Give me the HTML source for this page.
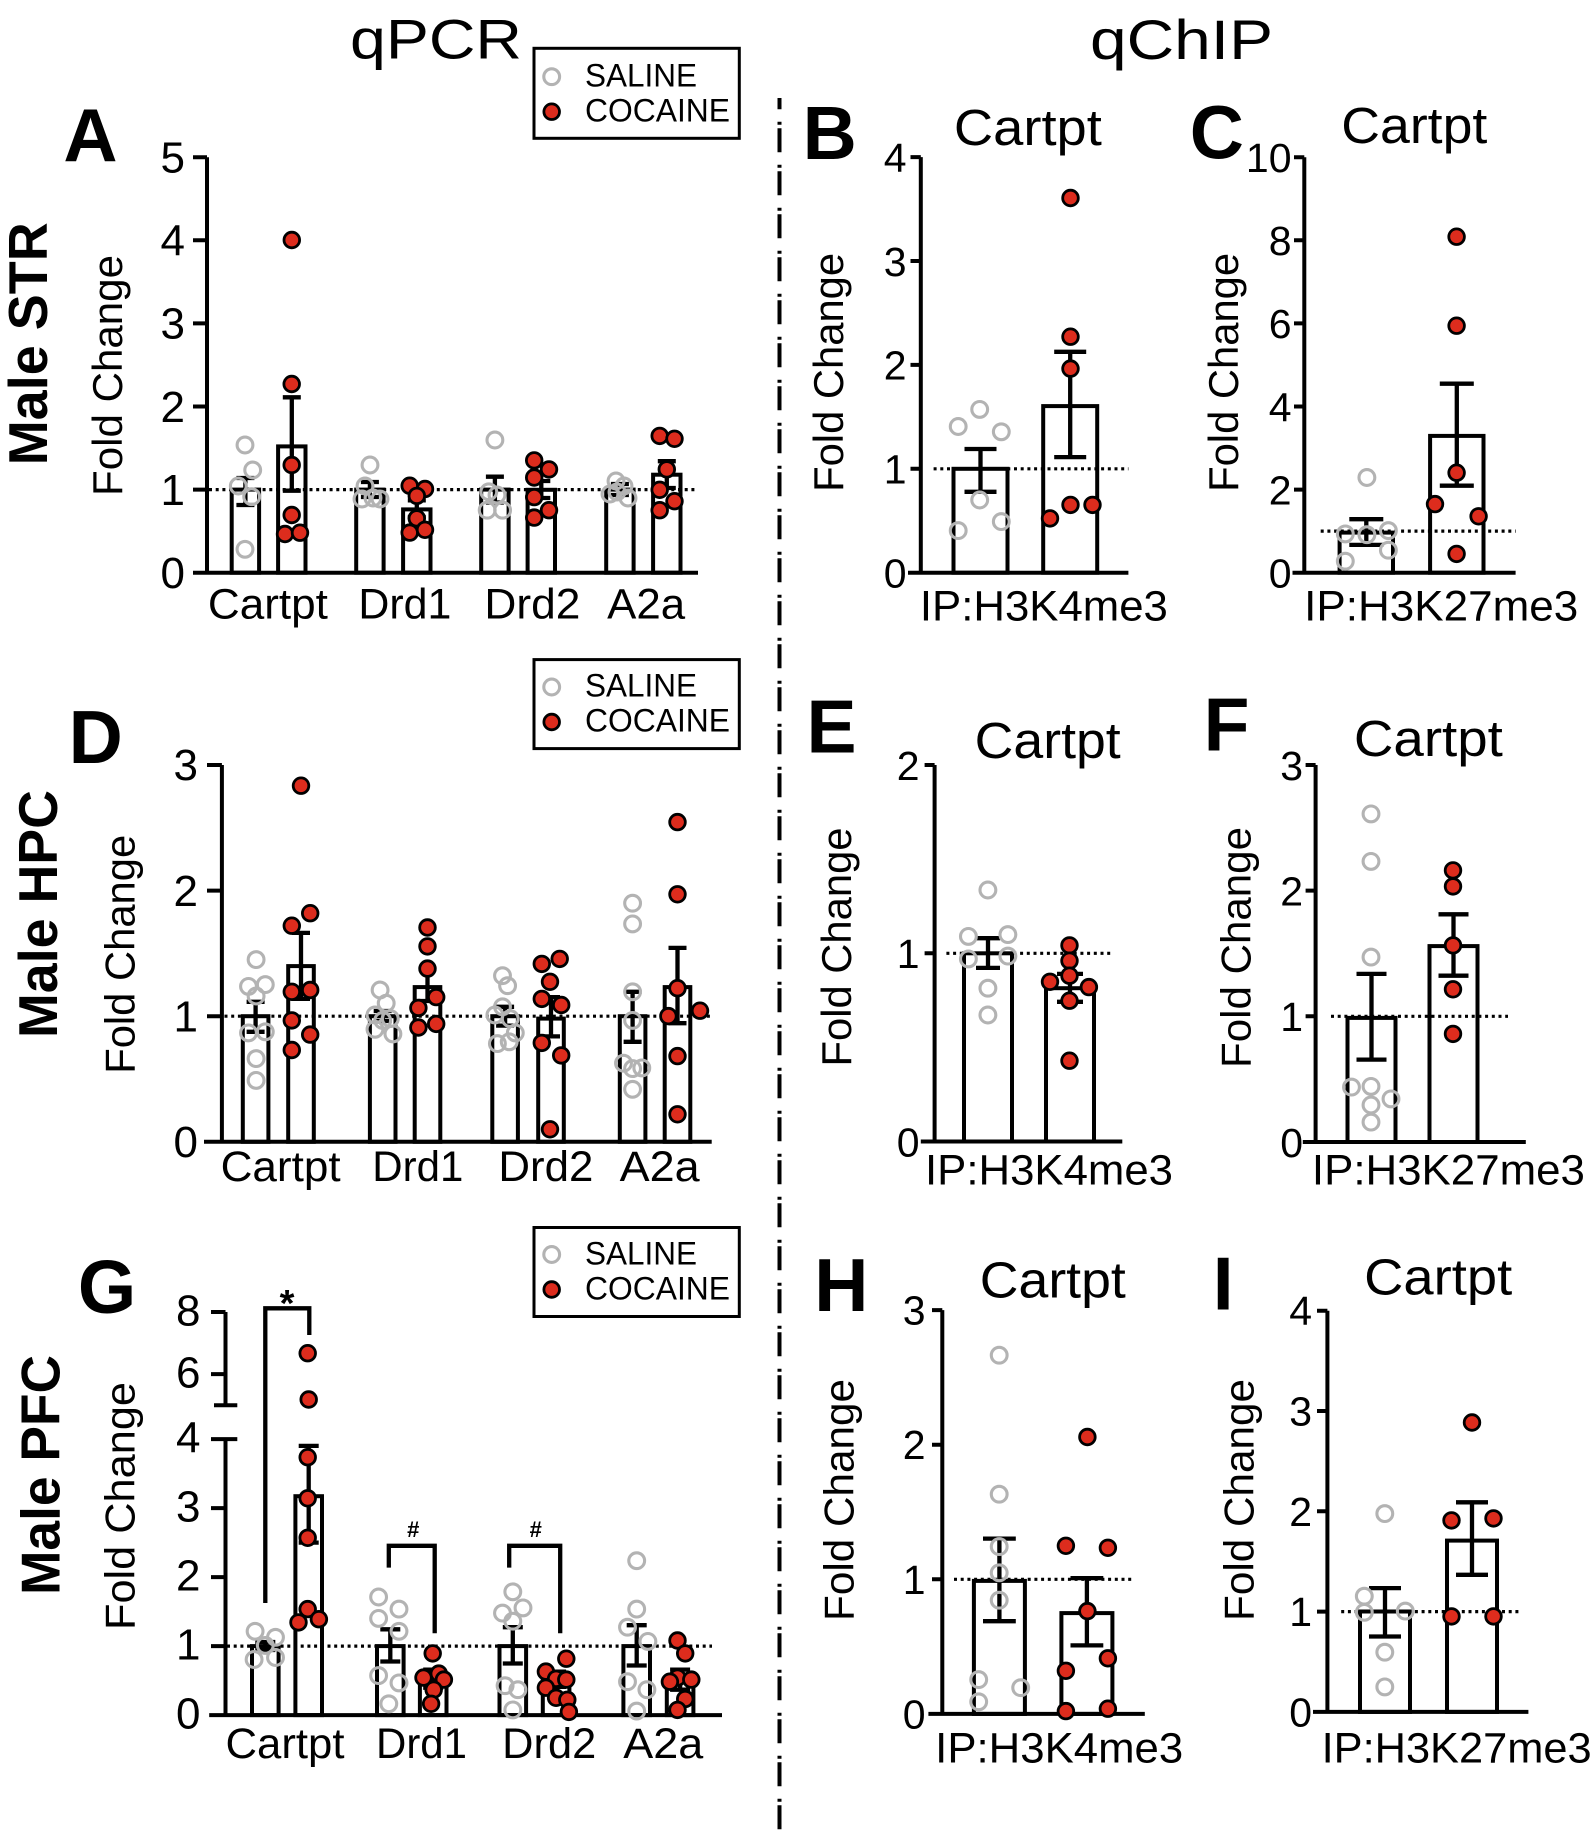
<!DOCTYPE html>
<html><head><meta charset="utf-8"><title>qPCR / qChIP</title>
<style>
html,body{margin:0;padding:0;background:#fff;}
svg{display:block;}
.ax{stroke:#000;stroke-width:4;fill:none;stroke-linecap:butt;}
.bar{stroke:#000;stroke-width:4;fill:none;}
.dt{stroke:#000;stroke-width:3.2;stroke-dasharray:3 3.7;fill:none;}
.eb{stroke:#000;stroke-width:4.3;fill:none;}
.s{fill:none;stroke:#b3b3b3;stroke-width:3.1;r:7.9px;}
.c{fill:#dd2c1d;stroke:#000;stroke-width:2.8;r:7.8px;}
text{font-family:"Liberation Sans",Arial,sans-serif;fill:#000;}
.tk{font-size:44px;text-anchor:end;}
.tkr{font-size:41px;text-anchor:end;}
.cat{font-size:43px;text-anchor:middle;}
.lt{font-size:75px;font-weight:bold;text-anchor:middle;}
.sub{font-size:51px;text-anchor:middle;}
.fc{font-size:42px;text-anchor:middle;}
.row{font-size:55px;font-weight:bold;text-anchor:middle;}
.lg{font-size:32px;}
</style></head>
<body>
<svg width="1594" height="1832" viewBox="0 0 1594 1832" xmlns="http://www.w3.org/2000/svg">
<rect x="0" y="0" width="1594" height="1832" fill="#fff"/>

<!-- Titles -->
<text x="350" y="58.3" font-size="56" textLength="172" lengthAdjust="spacingAndGlyphs">qPCR</text>
<text x="1090" y="59" font-size="56" textLength="183" lengthAdjust="spacingAndGlyphs">qChIP</text>

<!-- Divider -->
<line x1="779.5" y1="98" x2="779.5" y2="1832" stroke="#000" stroke-width="4" stroke-dasharray="24 12.5 3 3.5" stroke-dashoffset="12.7"/>

<!-- Row labels -->
<text class="row" transform="translate(47,343.8) rotate(-90)" textLength="243" lengthAdjust="spacingAndGlyphs">Male STR</text>
<text class="row" transform="translate(57,914) rotate(-90)" textLength="248" lengthAdjust="spacingAndGlyphs">Male HPC</text>
<text class="row" transform="translate(59.5,1475) rotate(-90)" textLength="240" lengthAdjust="spacingAndGlyphs">Male PFC</text>

<!-- Panel letters -->
<text class="lt" x="90.5" y="161.2">A</text>
<text class="lt" x="829.7" y="159.2">B</text>
<text class="lt" x="1216.8" y="158.5">C</text>
<text class="lt" x="95.7" y="763">D</text>
<text class="lt" x="831.5" y="752.5">E</text>
<text class="lt" x="1226.6" y="750.5">F</text>
<text class="lt" x="107.1" y="1313">G</text>
<text class="lt" x="841.3" y="1310.8">H</text>
<text class="lt" x="1223.2" y="1309.4">I</text>

<!-- Legends -->
<g>
<rect x="534" y="48.3" width="205.3" height="90" fill="none" stroke="#000" stroke-width="3"/>
<circle class="s" cx="551.7" cy="76.7" r="7.2"/>
<circle class="c" cx="551.7" cy="111.7" r="7"/>
<text class="lg" x="585" y="86.7" textLength="112" lengthAdjust="spacingAndGlyphs">SALINE</text>
<text class="lg" x="585" y="121.7" textLength="145" lengthAdjust="spacingAndGlyphs">COCAINE</text>
</g>
<g>
<rect x="534" y="659.6" width="205.3" height="89" fill="none" stroke="#000" stroke-width="3"/>
<circle class="s" cx="551.7" cy="687" r="7.2"/>
<circle class="c" cx="551.7" cy="722" r="7"/>
<text class="lg" x="585" y="696.5" textLength="112" lengthAdjust="spacingAndGlyphs">SALINE</text>
<text class="lg" x="585" y="731.5" textLength="145" lengthAdjust="spacingAndGlyphs">COCAINE</text>
</g>
<g>
<rect x="534" y="1227.5" width="205.3" height="89" fill="none" stroke="#000" stroke-width="3"/>
<circle class="s" cx="551.7" cy="1254.5" r="7.2"/>
<circle class="c" cx="551.7" cy="1289.5" r="7"/>
<text class="lg" x="585" y="1264.5" textLength="112" lengthAdjust="spacingAndGlyphs">SALINE</text>
<text class="lg" x="585" y="1299.5" textLength="145" lengthAdjust="spacingAndGlyphs">COCAINE</text>
</g>

<!-- ================= Panel A ================= -->
<text class="fc" transform="translate(121.8,375.5) rotate(-90)" textLength="241" lengthAdjust="spacingAndGlyphs">Fold Change</text>
<path class="ax" d="M207,157.2V574.7 M193,572.7H698 M193,489.6H207 M193,406.5H207 M193,323.4H207 M193,240.3H207 M193,157.2H207"/>
<text class="tk" x="185" y="588">0</text>
<text class="tk" x="185" y="504.9">1</text>
<text class="tk" x="185" y="421.8">2</text>
<text class="tk" x="185" y="338.7">3</text>
<text class="tk" x="185" y="255.6">4</text>
<text class="tk" x="185" y="172.5">5</text>
<rect class="bar" x="231.7" y="489.6" width="27.4" height="83.1"/>
<rect class="bar" x="278.1" y="446.4" width="27.4" height="126.3"/>
<rect class="bar" x="356.2" y="489.6" width="27.4" height="83.1"/>
<rect class="bar" x="403.1" y="509.4" width="27.4" height="63.3"/>
<rect class="bar" x="481.2" y="489.6" width="27.4" height="83.1"/>
<rect class="bar" x="527.6" y="489.8" width="27.4" height="82.9"/>
<rect class="bar" x="606.2" y="489.6" width="27.4" height="83.1"/>
<rect class="bar" x="653.1" y="474.7" width="27.4" height="98"/>
<path class="dt" d="M209,489.6H698"/>
<path class="eb" d="M245.4,478V505 M236.4,478H254.4 M236.4,505H254.4
M291.8,397.3V490.7 M282.8,397.3H300.8 M282.8,490.7H300.8
M369.9,482V497 M360.9,482H378.9 M360.9,497H378.9
M416.8,500.4V517 M407.8,500.4H425.8 M407.8,517H425.8
M494.9,476.7V502.5 M485.9,476.7H503.9 M485.9,502.5H503.9
M541.3,481V498 M532.3,481H550.3 M532.3,498H550.3
M619.9,484V495 M610.9,484H628.9 M610.9,495H628.9
M666.8,461.2V488 M657.8,461.2H675.8 M657.8,488H675.8"/>
<g>
<circle class="s" cx="245" cy="445" r="7.4"/><circle class="s" cx="252.7" cy="470" r="7.4"/><circle class="s" cx="238.3" cy="486" r="7.4"/><circle class="s" cx="251.7" cy="496.7" r="7.4"/><circle class="s" cx="245" cy="549.3" r="7.4"/>
<circle class="c" cx="291.8" cy="240" r="7.2"/><circle class="c" cx="291.7" cy="384" r="7.2"/><circle class="c" cx="291.7" cy="465" r="7.2"/><circle class="c" cx="291.7" cy="515" r="7.2"/><circle class="c" cx="285" cy="534" r="7.2"/><circle class="c" cx="300" cy="532.7" r="7.2"/>
<circle class="s" cx="370" cy="465" r="7.4"/><circle class="s" cx="365" cy="486" r="7.4"/><circle class="s" cx="362" cy="499" r="7.4"/><circle class="s" cx="373" cy="498" r="7.4"/><circle class="s" cx="380" cy="499" r="7.4"/>
<circle class="c" cx="409.7" cy="485.7" r="7.2"/><circle class="c" cx="425" cy="489" r="7.2"/><circle class="c" cx="416.8" cy="495.9" r="7.2"/><circle class="c" cx="416.8" cy="518.4" r="7.2"/><circle class="c" cx="409.7" cy="532.6" r="7.2"/><circle class="c" cx="425" cy="529.8" r="7.2"/>
<circle class="s" cx="494.9" cy="440" r="7.4"/><circle class="s" cx="488.8" cy="491.8" r="7.4"/><circle class="s" cx="497" cy="495" r="7.4"/><circle class="s" cx="487.2" cy="510.2" r="7.4"/><circle class="s" cx="502.6" cy="510.2" r="7.4"/>
<circle class="c" cx="534.2" cy="460.4" r="7.2"/><circle class="c" cx="549" cy="469.4" r="7.2"/><circle class="c" cx="534.2" cy="477.5" r="7.2"/><circle class="c" cx="534.2" cy="497.1" r="7.2"/><circle class="c" cx="549" cy="510.2" r="7.2"/><circle class="c" cx="534.2" cy="517.6" r="7.2"/>
<circle class="s" cx="616" cy="481" r="7.4"/><circle class="s" cx="624" cy="486" r="7.4"/><circle class="s" cx="610" cy="494" r="7.4"/><circle class="s" cx="628" cy="498" r="7.4"/><circle class="s" cx="617" cy="492" r="7.4"/>
<circle class="c" cx="659.7" cy="435.9" r="7.2"/><circle class="c" cx="674.5" cy="438.8" r="7.2"/><circle class="c" cx="666.8" cy="469.4" r="7.2"/><circle class="c" cx="659.7" cy="489.8" r="7.2"/><circle class="c" cx="674.5" cy="501.2" r="7.2"/><circle class="c" cx="659.7" cy="510.2" r="7.2"/>
</g>
<text class="cat" x="267.9" y="618.4" textLength="120" lengthAdjust="spacingAndGlyphs">Cartpt</text>
<text class="cat" x="404.9" y="618.4" textLength="93" lengthAdjust="spacingAndGlyphs">Drd1</text>
<text class="cat" x="532.4" y="618.4" textLength="96" lengthAdjust="spacingAndGlyphs">Drd2</text>
<text class="cat" x="646.2" y="618.4" textLength="78" lengthAdjust="spacingAndGlyphs">A2a</text>

<!-- ================= Panel B ================= -->
<text class="sub" x="1027.9" y="145" textLength="148" lengthAdjust="spacingAndGlyphs">Cartpt</text>
<text class="fc" transform="translate(843,372.4) rotate(-90)" textLength="239" lengthAdjust="spacingAndGlyphs">Fold Change</text>
<path class="ax" d="M920.8,157.1V574.7 M908,572.7H1128.4 M910.5,468.8H920.8 M910.5,364.9H920.8 M910.5,261H920.8 M910.5,157.1H920.8"/>
<text class="tkr" x="906.5" y="587.5">0</text>
<text class="tkr" x="906.5" y="483.6">1</text>
<text class="tkr" x="906.5" y="379.7">2</text>
<text class="tkr" x="906.5" y="275.8">3</text>
<text class="tkr" x="906.5" y="171.9">4</text>
<rect class="bar" x="953.5" y="468.8" width="54" height="103.9"/>
<rect class="bar" x="1043.2" y="406.1" width="54" height="166.6"/>
<path class="dt" d="M933.6,468.8H1128.4"/>
<path class="eb" d="M980.5,449V491.8 M964.5,449H996.5 M964.5,491.8H996.5 M1070.2,351.8V457.1 M1054.2,351.8H1086.2 M1054.2,457.1H1086.2"/>
<g>
<circle class="s" cx="958.2" cy="426.5" r="7.4"/><circle class="s" cx="979.7" cy="409.4" r="7.4"/><circle class="s" cx="1001.3" cy="431.8" r="7.4"/><circle class="s" cx="979.7" cy="500" r="7.4"/><circle class="s" cx="958.2" cy="530.6" r="7.4"/><circle class="s" cx="1001.3" cy="521.6" r="7.4"/>
<circle class="c" cx="1070.5" cy="198" r="7.2"/><circle class="c" cx="1070.5" cy="336.7" r="7.2"/><circle class="c" cx="1070.5" cy="368.6" r="7.2"/><circle class="c" cx="1050" cy="518.4" r="7.2"/><circle class="c" cx="1070.5" cy="504.9" r="7.2"/><circle class="c" cx="1092.5" cy="504.9" r="7.2"/>
</g>
<text class="cat" x="1043.9" y="620.4" textLength="248" lengthAdjust="spacingAndGlyphs">IP:H3K4me3</text>

<!-- ================= Panel C ================= -->
<text class="sub" x="1414.3" y="143" textLength="146" lengthAdjust="spacingAndGlyphs">Cartpt</text>
<text class="fc" transform="translate(1238,372.4) rotate(-90)" textLength="239" lengthAdjust="spacingAndGlyphs">Fold Change</text>
<path class="ax" d="M1304.3,157.2V574.7 M1292.5,572.7H1515.6 M1294,489.6H1304.3 M1294,406.5H1304.3 M1294,323.4H1304.3 M1294,240.3H1304.3 M1294,157.2H1304.3"/>
<text class="tkr" x="1291.5" y="587.5">0</text>
<text class="tkr" x="1291.5" y="504.4">2</text>
<text class="tkr" x="1291.5" y="421.3">4</text>
<text class="tkr" x="1291.5" y="338.2">6</text>
<text class="tkr" x="1291.5" y="255.1">8</text>
<text class="tkr" x="1291.5" y="172">10</text>
<rect class="bar" x="1339.6" y="532.6" width="53.4" height="40.1"/>
<rect class="bar" x="1430.1" y="435.9" width="53.4" height="136.8"/>
<path class="dt" d="M1320.7,531.1H1515.6"/>
<path class="eb" d="M1366.3,519.2V544.9 M1349.3,519.2H1383.3 M1349.3,544.9H1383.3 M1456.8,383.7V485.7 M1439.8,383.7H1473.8 M1439.8,485.7H1473.8"/>
<g>
<circle class="s" cx="1366.9" cy="477.5" r="7.4"/><circle class="s" cx="1345.3" cy="533.9" r="7.4"/><circle class="s" cx="1366.9" cy="534.7" r="7.4"/><circle class="s" cx="1388.4" cy="530.6" r="7.4"/><circle class="s" cx="1388.4" cy="550.2" r="7.4"/><circle class="s" cx="1345.3" cy="561.2" r="7.4"/>
<circle class="c" cx="1456.6" cy="236.7" r="7.2"/><circle class="c" cx="1456.6" cy="325.7" r="7.2"/><circle class="c" cx="1456.6" cy="472.7" r="7.2"/><circle class="c" cx="1435" cy="504.1" r="7.2"/><circle class="c" cx="1478.6" cy="516.3" r="7.2"/><circle class="c" cx="1456.6" cy="553.9" r="7.2"/>
</g>
<text class="cat" x="1441.2" y="620.4" textLength="274" lengthAdjust="spacingAndGlyphs">IP:H3K27me3</text>

<!-- ================= Panel D ================= -->
<text class="fc" transform="translate(134.6,954.3) rotate(-90)" textLength="239" lengthAdjust="spacingAndGlyphs">Fold Change</text>
<path class="ax" d="M221.9,765V1143.8 M204,1141.8H711.7 M207,1016.2H221.9 M207,890.6H221.9 M207,765H221.9"/>
<text class="tk" x="198" y="1157">0</text>
<text class="tk" x="198" y="1031.4">1</text>
<text class="tk" x="198" y="905.8">2</text>
<text class="tk" x="198" y="780.2">3</text>
<rect class="bar" x="242.8" y="1016.2" width="25.6" height="125.6"/>
<rect class="bar" x="288.2" y="966.1" width="25.6" height="175.7"/>
<rect class="bar" x="369.9" y="1016.2" width="25.6" height="125.6"/>
<rect class="bar" x="414.7" y="987.1" width="25.6" height="154.7"/>
<rect class="bar" x="492.3" y="1016.2" width="25.6" height="125.6"/>
<rect class="bar" x="538.2" y="1018.6" width="25.6" height="123.2"/>
<rect class="bar" x="619.8" y="1016.2" width="25.6" height="125.6"/>
<rect class="bar" x="664.7" y="987.1" width="25.6" height="154.7"/>
<path class="dt" d="M224.5,1016.2H711.7"/>
<path class="eb" d="M255.6,1001.8V1031.8 M246.6,1001.8H264.6 M246.6,1031.8H264.6
M301,932.9V998.9 M292,932.9H310 M292,998.9H310
M382.7,1011V1021 M373.7,1011H391.7 M373.7,1021H391.7
M427.5,969V1001 M418.5,969H436.5 M418.5,1001H436.5
M505.1,1006.8V1025.6 M496.1,1006.8H514.1 M496.1,1025.6H514.1
M551,997.1V1036.4 M542,997.1H560 M542,1036.4H560
M632.6,991.8V1041.8 M623.6,991.8H641.6 M623.6,1041.8H641.6
M677.5,947.9V1023.2 M668.5,947.9H686.5 M668.5,1023.2H686.5"/>
<g>
<circle class="s" cx="256.1" cy="959.6" r="7.4"/><circle class="s" cx="248.5" cy="986.4" r="7.4"/><circle class="s" cx="265.3" cy="984.6" r="7.4"/><circle class="s" cx="256.1" cy="996" r="7.4"/><circle class="s" cx="265.3" cy="1031.8" r="7.4"/><circle class="s" cx="248.5" cy="1032.9" r="7.4"/><circle class="s" cx="256.1" cy="1058.6" r="7.4"/><circle class="s" cx="256.1" cy="1080.4" r="7.4"/>
<circle class="c" cx="301" cy="785.7" r="7.2"/><circle class="c" cx="310.2" cy="913.2" r="7.2"/><circle class="c" cx="291.8" cy="925.7" r="7.2"/><circle class="c" cx="291.8" cy="991.8" r="7.2"/><circle class="c" cx="310.2" cy="990" r="7.2"/><circle class="c" cx="291.8" cy="1020.4" r="7.2"/><circle class="c" cx="310.2" cy="1034.6" r="7.2"/><circle class="c" cx="291.8" cy="1050" r="7.2"/>
<circle class="s" cx="380.1" cy="990" r="7.4"/><circle class="s" cx="386.2" cy="1003.2" r="7.4"/><circle class="s" cx="375" cy="1015" r="7.4"/><circle class="s" cx="390.3" cy="1018.6" r="7.4"/><circle class="s" cx="382.7" cy="1020.4" r="7.4"/><circle class="s" cx="375" cy="1029.3" r="7.4"/><circle class="s" cx="392.9" cy="1033.9" r="7.4"/>
<circle class="c" cx="427.5" cy="927.5" r="7.2"/><circle class="c" cx="427.5" cy="946.4" r="7.2"/><circle class="c" cx="427.5" cy="968.6" r="7.2"/><circle class="c" cx="418.4" cy="1007.9" r="7.2"/><circle class="c" cx="436.2" cy="997.1" r="7.2"/><circle class="c" cx="418.4" cy="1027.5" r="7.2"/><circle class="c" cx="436.2" cy="1023.9" r="7.2"/>
<circle class="s" cx="502.5" cy="975.7" r="7.4"/><circle class="s" cx="507.6" cy="985.7" r="7.4"/><circle class="s" cx="502.5" cy="1006.8" r="7.4"/><circle class="s" cx="494.9" cy="1015" r="7.4"/><circle class="s" cx="510.2" cy="1018.6" r="7.4"/><circle class="s" cx="515.3" cy="1032.9" r="7.4"/><circle class="s" cx="497.4" cy="1043.6" r="7.4"/><circle class="s" cx="509.2" cy="1041.8" r="7.4"/>
<circle class="c" cx="541.8" cy="963.9" r="7.2"/><circle class="c" cx="559.7" cy="958.9" r="7.2"/><circle class="c" cx="550" cy="981.8" r="7.2"/><circle class="c" cx="541.8" cy="998.9" r="7.2"/><circle class="c" cx="561.2" cy="1005" r="7.2"/><circle class="c" cx="541.8" cy="1042.9" r="7.2"/><circle class="c" cx="561.2" cy="1055.4" r="7.2"/><circle class="c" cx="550" cy="1129.3" r="7.2"/>
<circle class="s" cx="632.6" cy="903.2" r="7.4"/><circle class="s" cx="632.6" cy="923.9" r="7.4"/><circle class="s" cx="632.6" cy="991.8" r="7.4"/><circle class="s" cx="632.6" cy="1020.4" r="7.4"/><circle class="s" cx="623.5" cy="1063.2" r="7.4"/><circle class="s" cx="641.8" cy="1067.9" r="7.4"/><circle class="s" cx="632.6" cy="1068.6" r="7.4"/><circle class="s" cx="632.6" cy="1089.3" r="7.4"/>
<circle class="c" cx="677.5" cy="822.1" r="7.2"/><circle class="c" cx="677.5" cy="894.3" r="7.2"/><circle class="c" cx="677.5" cy="988.2" r="7.2"/><circle class="c" cx="668.4" cy="1016.1" r="7.2"/><circle class="c" cx="700" cy="1010.7" r="7.2"/><circle class="c" cx="677.5" cy="1056.1" r="7.2"/><circle class="c" cx="677.5" cy="1114.3" r="7.2"/>
</g>
<text class="cat" x="280.6" y="1181" textLength="120" lengthAdjust="spacingAndGlyphs">Cartpt</text>
<text class="cat" x="417.8" y="1181" textLength="91" lengthAdjust="spacingAndGlyphs">Drd1</text>
<text class="cat" x="545.9" y="1181" textLength="95" lengthAdjust="spacingAndGlyphs">Drd2</text>
<text class="cat" x="659.7" y="1181" textLength="80" lengthAdjust="spacingAndGlyphs">A2a</text>

<!-- ================= Panel E ================= -->
<text class="sub" x="1047.7" y="758" textLength="146" lengthAdjust="spacingAndGlyphs">Cartpt</text>
<text class="fc" transform="translate(850.8,947) rotate(-90)" textLength="239" lengthAdjust="spacingAndGlyphs">Fold Change</text>
<path class="ax" d="M934.6,765V1143.5 M920.8,1141.5H1122.3 M924.6,953.3H934.6 M924.6,765H934.6"/>
<text class="tkr" x="919.5" y="1156.3">0</text>
<text class="tkr" x="919.5" y="968.1">1</text>
<text class="tkr" x="919.5" y="779.8">2</text>
<rect class="bar" x="964" y="953.3" width="48" height="188.2"/>
<rect class="bar" x="1046" y="988.2" width="48" height="153.3"/>
<path class="dt" d="M946.4,953.3H1110.5"/>
<path class="eb" d="M988,938.2V967.9 M976,938.2H1000 M976,967.9H1000 M1070,973.9V1001.8 M1057,973.9H1083 M1057,1001.8H1083"/>
<g>
<circle class="s" cx="987.9" cy="890" r="7.4"/><circle class="s" cx="968.4" cy="936.4" r="7.4"/><circle class="s" cx="1007.9" cy="934.6" r="7.4"/><circle class="s" cx="968.4" cy="958.9" r="7.4"/><circle class="s" cx="1007.9" cy="956.1" r="7.4"/><circle class="s" cx="987.9" cy="988.2" r="7.4"/><circle class="s" cx="987.9" cy="1015" r="7.4"/>
<circle class="c" cx="1069.5" cy="945.4" r="7.2"/><circle class="c" cx="1069.5" cy="960.7" r="7.2"/><circle class="c" cx="1069.5" cy="975.7" r="7.2"/><circle class="c" cx="1050" cy="981.8" r="7.2"/><circle class="c" cx="1088.9" cy="987.1" r="7.2"/><circle class="c" cx="1069.5" cy="1000.7" r="7.2"/><circle class="c" cx="1069.5" cy="1060.7" r="7.2"/>
</g>
<text class="cat" x="1049" y="1184.6" textLength="248" lengthAdjust="spacingAndGlyphs">IP:H3K4me3</text>

<!-- ================= Panel F ================= -->
<text class="sub" x="1428.4" y="756" textLength="149" lengthAdjust="spacingAndGlyphs">Cartpt</text>
<text class="fc" transform="translate(1250.7,947.5) rotate(-90)" textLength="241" lengthAdjust="spacingAndGlyphs">Fold Change</text>
<path class="ax" d="M1315.6,765V1144 M1302.8,1142H1525.8 M1305.6,1016.3H1315.6 M1305.6,890.6H1315.6 M1305.6,765H1315.6"/>
<text class="tkr" x="1303" y="1156.8">0</text>
<text class="tkr" x="1303" y="1031.1">1</text>
<text class="tkr" x="1303" y="905.4">2</text>
<text class="tkr" x="1303" y="779.8">3</text>
<rect class="bar" x="1347.5" y="1017.9" width="48" height="124.1"/>
<rect class="bar" x="1429.5" y="946.1" width="48" height="195.9"/>
<path class="dt" d="M1331,1016.3H1508"/>
<path class="eb" d="M1371.5,973.9V1059.6 M1356.5,973.9H1386.5 M1356.5,1059.6H1386.5 M1453.5,914.3V975.7 M1438.5,914.3H1468.5 M1438.5,975.7H1468.5"/>
<g>
<circle class="s" cx="1371" cy="813.9" r="7.4"/><circle class="s" cx="1371" cy="861.4" r="7.4"/><circle class="s" cx="1371" cy="957.1" r="7.4"/><circle class="s" cx="1351.5" cy="1087.1" r="7.4"/><circle class="s" cx="1371" cy="1086.4" r="7.4"/><circle class="s" cx="1391" cy="1098.9" r="7.4"/><circle class="s" cx="1371" cy="1105" r="7.4"/><circle class="s" cx="1371" cy="1122.1" r="7.4"/>
<circle class="c" cx="1453" cy="870.4" r="7.2"/><circle class="c" cx="1453" cy="886.4" r="7.2"/><circle class="c" cx="1453" cy="945.4" r="7.2"/><circle class="c" cx="1453" cy="989.3" r="7.2"/><circle class="c" cx="1453" cy="1033.9" r="7.2"/>
</g>
<text class="cat" x="1448.4" y="1184.6" textLength="273" lengthAdjust="spacingAndGlyphs">IP:H3K27me3</text>

<!-- ================= Panel G ================= -->
<text class="fc" transform="translate(134.6,1506) rotate(-90)" textLength="248" lengthAdjust="spacingAndGlyphs">Fold Change</text>
<path class="ax" d="M225.5,1312V1405.2 M225.5,1439.1V1717.1 M209.2,1715.1H722 M211,1312H225.5 M211,1374.1H225.5 M211,1508.1H225.5 M211,1577.1H225.5 M211,1646.1H225.5 M214,1405.2H237.3 M211,1439.1H237.3"/>
<text class="tk" x="200.5" y="1325.5">8</text>
<text class="tk" x="200.5" y="1387.6">6</text>
<text class="tk" x="200.5" y="1452.6">4</text>
<text class="tk" x="200.5" y="1521.6">3</text>
<text class="tk" x="200.5" y="1590.6">2</text>
<text class="tk" x="200.5" y="1659.6">1</text>
<text class="tk" x="200.5" y="1728.6">0</text>
<rect class="bar" x="252" y="1646.1" width="26.6" height="69"/>
<rect class="bar" x="295.4" y="1496.2" width="26.6" height="218.9"/>
<rect class="bar" x="377" y="1646.1" width="26.6" height="69"/>
<rect class="bar" x="419.9" y="1677.6" width="26.6" height="37.5"/>
<rect class="bar" x="499.5" y="1646.1" width="26.6" height="69"/>
<rect class="bar" x="542.8" y="1679.6" width="26.6" height="35.5"/>
<rect class="bar" x="623.4" y="1646.1" width="26.6" height="69"/>
<rect class="bar" x="666.8" y="1680" width="26.6" height="35.1"/>
<path class="dt" d="M227,1646.1H712"/>
<path class="eb" d="M265.3,1642V1650 M255.3,1642H275.3 M255.3,1650H275.3
M308.7,1445.9V1542.6 M298.7,1445.9H318.7 M298.7,1542.6H318.7
M390.3,1629.3V1661.5 M380.3,1629.3H400.3 M380.3,1661.5H400.3
M433.2,1669.6V1687.7 M423.2,1669.6H443.2 M423.2,1687.7H443.2
M512.8,1627.2V1663.5 M502.8,1627.2H522.8 M502.8,1663.5H522.8
M556.1,1671.6V1686.9 M546.1,1671.6H566.1 M546.1,1686.9H566.1
M636.7,1625.2V1665.5 M626.7,1625.2H646.7 M626.7,1665.5H646.7
M680.1,1669.6V1689.7 M670.1,1669.6H690.1 M670.1,1689.7H690.1"/>
<!-- significance brackets -->
<path class="eb" d="M265.3,1603V1308.3H309.3V1335"/>
<path class="eb" d="M388.8,1567.6V1545.8H434.7V1633.3"/>
<path class="eb" d="M509.2,1567.6V1545.8H560.2V1633.3"/>
<text x="287" y="1316" font-size="38" font-weight="bold" text-anchor="middle">*</text>
<text x="413.3" y="1537" font-size="22" font-weight="bold" text-anchor="middle">#</text>
<text x="535.7" y="1537" font-size="22" font-weight="bold" text-anchor="middle">#</text>
<g>
<circle class="s" cx="255.1" cy="1631.3" r="7.4"/><circle class="s" cx="275.5" cy="1637.3" r="7.4"/><circle class="s" cx="265.3" cy="1645.4" r="7.4"/><circle class="s" cx="254.1" cy="1659.5" r="7.4"/><circle class="s" cx="275.5" cy="1657.5" r="7.4"/>
<circle class="c" cx="307.7" cy="1353.2" r="7.2"/><circle class="c" cx="308.7" cy="1399.5" r="7.2"/><circle class="c" cx="307.7" cy="1457.2" r="7.2"/><circle class="c" cx="307.7" cy="1498.3" r="7.2"/><circle class="c" cx="307.7" cy="1537.8" r="7.2"/><circle class="c" cx="307.7" cy="1609.1" r="7.2"/><circle class="c" cx="298.5" cy="1622.4" r="7.2"/><circle class="c" cx="318.9" cy="1619.2" r="7.2"/>
<circle class="s" cx="378.6" cy="1597" r="7.4"/><circle class="s" cx="399" cy="1609.1" r="7.4"/><circle class="s" cx="378.6" cy="1618.4" r="7.4"/><circle class="s" cx="399" cy="1631.3" r="7.4"/><circle class="s" cx="378.6" cy="1675.6" r="7.4"/><circle class="s" cx="399" cy="1682.9" r="7.4"/><circle class="s" cx="388.8" cy="1703.8" r="7.4"/>
<circle class="c" cx="432.7" cy="1653.4" r="7.2"/><circle class="c" cx="423.5" cy="1677.6" r="7.2"/><circle class="c" cx="438.8" cy="1673.6" r="7.2"/><circle class="c" cx="443.9" cy="1679.6" r="7.2"/><circle class="c" cx="433.7" cy="1689.7" r="7.2"/><circle class="c" cx="431.1" cy="1703.8" r="7.2"/>
<circle class="s" cx="512.8" cy="1591.8" r="7.4"/><circle class="s" cx="502.5" cy="1613.1" r="7.4"/><circle class="s" cx="523" cy="1607.9" r="7.4"/><circle class="s" cx="512.8" cy="1621.2" r="7.4"/><circle class="s" cx="505.1" cy="1685.7" r="7.4"/><circle class="s" cx="517.9" cy="1689.7" r="7.4"/><circle class="s" cx="512.8" cy="1709.9" r="7.4"/>
<circle class="c" cx="566.3" cy="1658.7" r="7.2"/><circle class="c" cx="545.9" cy="1671.6" r="7.2"/><circle class="c" cx="556.1" cy="1678.8" r="7.2"/><circle class="c" cx="566.3" cy="1679.6" r="7.2"/><circle class="c" cx="545.9" cy="1687.7" r="7.2"/><circle class="c" cx="556.1" cy="1697.8" r="7.2"/><circle class="c" cx="567.3" cy="1699.8" r="7.2"/><circle class="c" cx="568.9" cy="1711.9" r="7.2"/>
<circle class="s" cx="636.7" cy="1560.7" r="7.4"/><circle class="s" cx="636.7" cy="1609.1" r="7.4"/><circle class="s" cx="627.5" cy="1627.2" r="7.4"/><circle class="s" cx="647.9" cy="1641.4" r="7.4"/><circle class="s" cx="627.5" cy="1681.7" r="7.4"/><circle class="s" cx="646.9" cy="1689.7" r="7.4"/><circle class="s" cx="636.7" cy="1711.1" r="7.4"/>
<circle class="c" cx="677.5" cy="1640.5" r="7.2"/><circle class="c" cx="685.2" cy="1653.4" r="7.2"/><circle class="c" cx="677.5" cy="1677.6" r="7.2"/><circle class="c" cx="669.9" cy="1681.7" r="7.2"/><circle class="c" cx="691.3" cy="1679.6" r="7.2"/><circle class="c" cx="685.2" cy="1699" r="7.2"/><circle class="c" cx="677.5" cy="1709.9" r="7.2"/>
</g>
<text class="cat" x="285" y="1758.2" textLength="119" lengthAdjust="spacingAndGlyphs">Cartpt</text>
<text class="cat" x="421.5" y="1758.2" textLength="91" lengthAdjust="spacingAndGlyphs">Drd1</text>
<text class="cat" x="549.2" y="1758.2" textLength="94" lengthAdjust="spacingAndGlyphs">Drd2</text>
<text class="cat" x="663.3" y="1758.2" textLength="80" lengthAdjust="spacingAndGlyphs">A2a</text>

<!-- ================= Panel H ================= -->
<text class="sub" x="1052.8" y="1297.5" textLength="146" lengthAdjust="spacingAndGlyphs">Cartpt</text>
<text class="fc" transform="translate(853.3,1500) rotate(-90)" textLength="242" lengthAdjust="spacingAndGlyphs">Fold Change</text>
<path class="ax" d="M942.3,1310.1V1715.9 M928.4,1713.9H1144.8 M932,1579.3H942.3 M932,1444.7H942.3 M932,1310.1H942.3"/>
<text class="tkr" x="925.5" y="1728.4">0</text>
<text class="tkr" x="925.5" y="1593.8">1</text>
<text class="tkr" x="925.5" y="1459.2">2</text>
<text class="tkr" x="925.5" y="1324.6">3</text>
<rect class="bar" x="973.9" y="1580.9" width="51" height="133"/>
<rect class="bar" x="1061.4" y="1613.1" width="51" height="100.8"/>
<path class="dt" d="M954,1579.3H1133.5"/>
<path class="eb" d="M999.4,1538.6V1621.2 M983,1538.6H1015.8 M983,1621.2H1015.8 M1086.9,1578.1V1645.4 M1070.5,1578.1H1103.3 M1070.5,1645.4H1103.3"/>
<g>
<circle class="s" cx="999.2" cy="1355.2" r="7.4"/><circle class="s" cx="999.2" cy="1494.2" r="7.4"/><circle class="s" cx="999.2" cy="1546.6" r="7.4"/><circle class="s" cx="999.2" cy="1572.8" r="7.4"/><circle class="s" cx="999.2" cy="1600.2" r="7.4"/><circle class="s" cx="978.7" cy="1679.6" r="7.4"/><circle class="s" cx="1020.7" cy="1687.7" r="7.4"/><circle class="s" cx="978.7" cy="1701.8" r="7.4"/>
<circle class="c" cx="1087.4" cy="1437" r="7.2"/><circle class="c" cx="1065.9" cy="1545.8" r="7.2"/><circle class="c" cx="1107.9" cy="1547.8" r="7.2"/><circle class="c" cx="1087.4" cy="1611.1" r="7.2"/><circle class="c" cx="1107.9" cy="1658.3" r="7.2"/><circle class="c" cx="1065.9" cy="1670.8" r="7.2"/><circle class="c" cx="1065.9" cy="1711.1" r="7.2"/><circle class="c" cx="1107.9" cy="1708.7" r="7.2"/>
</g>
<text class="cat" x="1059.2" y="1762.3" textLength="248" lengthAdjust="spacingAndGlyphs">IP:H3K4me3</text>

<!-- ================= Panel I ================= -->
<text class="sub" x="1438.2" y="1294.7" textLength="148" lengthAdjust="spacingAndGlyphs">Cartpt</text>
<text class="fc" transform="translate(1253.3,1500) rotate(-90)" textLength="242" lengthAdjust="spacingAndGlyphs">Fold Change</text>
<path class="ax" d="M1327.4,1310.7V1713.9 M1313,1711.9H1528.4 M1317,1611.6H1327.4 M1317,1511.3H1327.4 M1317,1411H1327.4 M1317,1310.7H1327.4"/>
<text class="tkr" x="1312" y="1726.4">0</text>
<text class="tkr" x="1312" y="1626.1">1</text>
<text class="tkr" x="1312" y="1525.8">2</text>
<text class="tkr" x="1312" y="1425.5">3</text>
<text class="tkr" x="1312" y="1325.2">4</text>
<rect class="bar" x="1360" y="1611.5" width="50" height="100.4"/>
<rect class="bar" x="1447" y="1540.6" width="50" height="171.3"/>
<path class="dt" d="M1341.2,1611.6H1520.7"/>
<path class="eb" d="M1385,1588.1V1636.5 M1369,1588.1H1401 M1369,1636.5H1401 M1472,1502.3V1574.8 M1456,1502.3H1488 M1456,1574.8H1488"/>
<g>
<circle class="s" cx="1384.8" cy="1513.6" r="7.4"/><circle class="s" cx="1364.3" cy="1596.2" r="7.4"/><circle class="s" cx="1364.3" cy="1612.3" r="7.4"/><circle class="s" cx="1405.3" cy="1611.1" r="7.4"/><circle class="s" cx="1384.8" cy="1652.2" r="7.4"/><circle class="s" cx="1384.8" cy="1686.9" r="7.4"/>
<circle class="c" cx="1472" cy="1422.5" r="7.2"/><circle class="c" cx="1451.5" cy="1520.4" r="7.2"/><circle class="c" cx="1493.5" cy="1518.4" r="7.2"/><circle class="c" cx="1451.5" cy="1616.4" r="7.2"/><circle class="c" cx="1493.5" cy="1616.4" r="7.2"/>
</g>
<text class="cat" x="1456.6" y="1762.3" textLength="270" lengthAdjust="spacingAndGlyphs">IP:H3K27me3</text>

</svg>
</body></html>
